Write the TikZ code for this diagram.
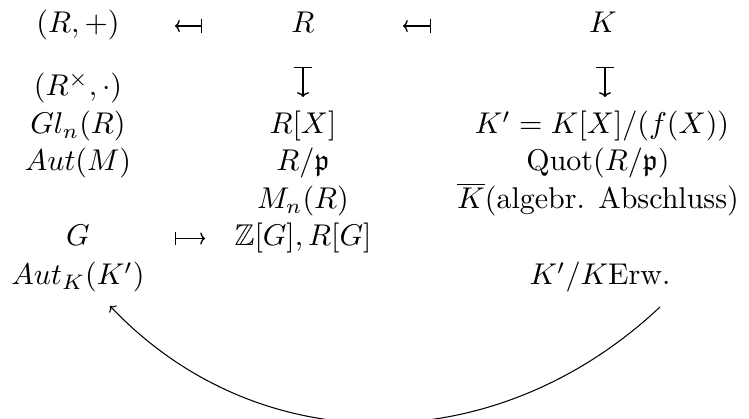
\documentclass[tikz,border=0pt]{standalone}
\usepackage{amsmath,amssymb}
\usetikzlibrary{arrows.meta}
\begin{document}
\begin{tikzpicture}[x=0.33333pt,y=-0.33333pt,
  lbl/.style={anchor=base,inner sep=0pt,outer sep=0pt},
  hmap/.style={line width=0.45pt,{Bar[width=4.4pt]}-{To[length=1.6pt,width=4pt]}},
  vmap/.style={line width=0.45pt,{Bar[width=6.2pt]}-{To[length=1.6pt,width=4pt]}},
  bigarc/.style={line width=0.35pt,-{To[length=1.6pt,width=3.4pt]}}]
\useasboundingbox (0,0) rectangle (749,419);
\clip (0,0) rectangle (749,419);
% column 1
\node[lbl] (a1) at (78,33) {$(R,+)$};
\node[lbl] (a2) at (78,96) {$(R^{\times},\cdot)$};
\node[lbl] (a3) at (78,134) {$Gl_n(R)$};
\node[lbl] (a4) at (78,171) {$Aut(M)$};
\node[lbl] (a6) at (78,246) {$G$};
\node[lbl] (a7) at (78,285) {$Aut_K(K')$};
% column 3
\node[lbl] (b1) at (303,33) {$R$};
\node[lbl] (b3) at (303,134) {$R[X]$};
\node[lbl] (b4) at (303,171) {$R/\mathfrak{p}$};
\node[lbl] (b5) at (303,209) {$M_n(R)$};
\node[lbl] (b6) at (303,246) {$\mathbb{Z}[G], R[G]$};
% column 5
\node[lbl] (c1) at (603,33) {$K$};
\node[lbl] (c3) at (602,134) {$K' = K[X]/(f(X))$};
\node[lbl] (c4) at (598,171) {$\mathrm{Quot}(R/\mathfrak{p})$};
\node[lbl] (c5) at (598,209) {$\overline{K}(\text{algebr. Abschluss})$};
\node[lbl] (c7) at (600,285) {$K'/K\text{Erw.}$};
% arrow end points
\coordinate (h1s) at (202,26); \coordinate (h1e) at (175,26);
\coordinate (h2s) at (431,26); \coordinate (h2e) at (403,26);
\coordinate (h3s) at (175,238.5); \coordinate (h3e) at (205,238.5);
\coordinate (v1s) at (303,67); \coordinate (v1e) at (303,97);
\coordinate (v2s) at (605,67); \coordinate (v2e) at (605,97);
\coordinate (arcs) at (660,307); \coordinate (arce) at (110,306);
\draw[hmap] (h1s) -- (h1e);
\draw[hmap] (h2s) -- (h2e);
\draw[hmap] (h3s) -- (h3e);
\draw[vmap] (v1s) -- (v1e);
\draw[vmap] (v2s) -- (v2e);
\draw[bigarc] (arcs) .. controls (495,462) and (258,462) .. (arce);
\end{tikzpicture}
\end{document}
